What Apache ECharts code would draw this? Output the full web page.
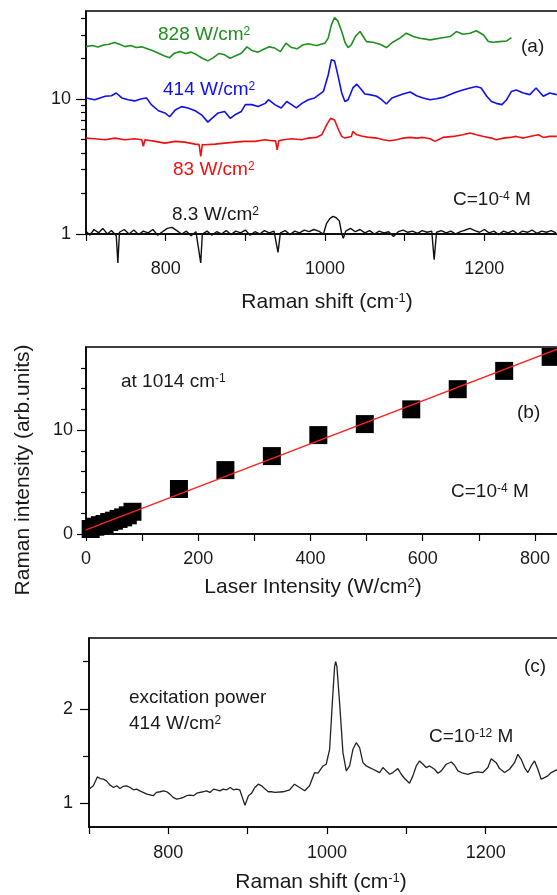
<!DOCTYPE html>
<html>
<head>
<meta charset="utf-8">
<script src="https://cdn.jsdelivr.net/npm/echarts@6/dist/echarts.min.js"></script>
<style>
html,body{margin:0;padding:0;background:#fff;}
#chart{width:557px;height:895px;}
</style>
</head>
<body>
<div id="chart"></div>
<script>
// (a) SERS spectra at four laser intensities, [Raman shift, intensity]
var spec828 = [[700,24.5],[708,25.0],[715,24.3],[722,25.2],[729,25.5],[736,26.3],[742,25.5],[749,24.5],[756,25.0],[763,24.1],[770,24.4],[777,23.6],[784,22.8],[791,21.9],[798,21.0],[805,20.3],[811,21.9],[818,22.5],[825,21.8],[832,22.3],[839,21.3],[846,20.1],[853,19.2],[860,20.3],[867,21.8],[874,21.3],[881,20.1],[888,21.0],[895,21.9],[902,24.4],[909,22.8],[916,22.3],[923,23.4],[930,24.4],[937,23.9],[944,22.5],[951,26.0],[958,24.1],[965,23.6],[972,25.2],[979,25.7],[986,25.2],[990,25.0],[995,25.5],[1000,26.0],[1004,28.3],[1008,35.5],[1012,40.2],[1016,38.0],[1021,31.7],[1025,26.4],[1029,24.1],[1033,25.2],[1038,29.1],[1044,31.7],[1048,29.1],[1052,26.7],[1060,26.4],[1069,25.5],[1077,24.1],[1085,26.4],[1094,28.3],[1102,30.8],[1111,29.1],[1119,28.3],[1132,27.5],[1144,28.3],[1157,29.1],[1165,31.7],[1173,30.3],[1182,30.8],[1190,32.1],[1199,29.9],[1205,26.7],[1211,26.4],[1219,26.7],[1228,27.0],[1234,28.6]];

var spec414 = [[700,10.2],[711,9.9],[724,10.5],[732,10.6],[738,11.1],[745,10.2],[753,9.9],[761,9.7],[770,10.05],[776,10.2],[782,9.1],[791,8.2],[799,7.9],[805,7.4],[812,8.3],[820,8.8],[828,8.6],[837,8.2],[845,7.65],[853,6.75],[858,7.2],[866,7.9],[874,8.1],[881,7.2],[887,7.65],[895,8.1],[900,9.1],[908,9.1],[916,8.8],[925,9.3],[929,9.9],[937,9.1],[945,8.6],[952,9.6],[958,9.1],[964,8.6],[971,9.3],[979,9.9],[987,10.2],[989,10.5],[998,11.4],[1004,15.1],[1008,19.6],[1012,19.2],[1017,14.3],[1021,11.1],[1025,9.6],[1029,9.9],[1035,12.1],[1040,12.9],[1044,12.1],[1050,10.9],[1056,10.8],[1065,10.5],[1071,9.9],[1077,9.2],[1084,10.2],[1090,10.5],[1098,10.9],[1107,11.3],[1115,10.6],[1123,10.2],[1132,9.9],[1140,10.05],[1148,10.3],[1157,10.8],[1165,11.3],[1173,11.7],[1182,12.1],[1190,12.4],[1196,12.1],[1203,10.5],[1209,9.6],[1215,9.3],[1222,9.1],[1228,9.9],[1234,11.4],[1240,11.7],[1249,11.1],[1257,10.8],[1265,12.1],[1274,10.5],[1282,11.1],[1291,10.8]];

var spec83 = [[700,5.14],[711,5.08],[724,5.0],[736,5.14],[749,5.0],[761,5.08],[770,5.0],[772,4.46],[774,5.0],[787,4.86],[799,4.72],[812,4.86],[824,4.8],[837,4.64],[842,4.6],[844,3.76],[846,4.6],[849,4.59],[862,4.64],[874,4.72],[887,4.8],[899,4.86],[912,4.86],[925,5.0],[933,4.91],[938,4.9],[940,4.21],[942,4.9],[948,5.0],[958,5.08],[971,5.0],[979,5.14],[989,5.2],[996,5.44],[1002,6.45],[1007,7.2],[1012,7.0],[1017,5.93],[1021,5.29],[1025,5.14],[1033,5.29],[1035,5.76],[1040,5.44],[1048,5.29],[1056,5.2],[1065,5.14],[1073,5.0],[1081,4.91],[1090,5.0],[1098,5.14],[1107,5.2],[1115,5.14],[1123,5.2],[1132,5.08],[1138,4.86],[1148,5.2],[1161,5.29],[1173,5.44],[1182,5.6],[1190,5.44],[1199,5.29],[1209,5.14],[1215,5.0],[1224,5.14],[1232,5.2],[1240,5.29],[1249,5.14],[1257,5.29],[1268,5.44],[1274,5.2],[1282,5.29],[1291,5.29]];

var spec8 = [[700,1.05],[705,0.98],[710,1.08],[716,1.02],[721,1.1],[727,1.0],[732,1.06],[738,0.97],[740,0.61],[742,1.03],[748,1.08],[754,1.0],[760,1.07],[766,0.99],[772,1.05],[778,1.02],[784,1.08],[790,0.98],[796,1.04],[802,1.1],[808,1.12],[814,1.06],[820,1.0],[826,1.05],[832,0.97],[838,1.04],[844,0.61],[846,1.0],[852,1.05],[858,0.98],[864,1.04],[870,1.0],[876,1.06],[882,0.99],[888,1.05],[894,1.02],[900,1.07],[906,0.98],[912,1.04],[918,1.0],[924,1.06],[930,1.02],[936,1.05],[941,0.73],[944,1.02],[950,1.06],[956,0.99],[962,1.05],[968,1.02],[974,1.07],[980,1.04],[986,1.08],[992,1.05],[998,1.0],[1002,1.2],[1006,1.3],[1010,1.35],[1014,1.32],[1018,1.25],[1021,1.0],[1023,0.93],[1026,1.05],[1032,1.1],[1038,1.04],[1044,1.08],[1050,1.02],[1056,1.06],[1062,1.0],[1068,1.05],[1074,1.02],[1080,1.04],[1086,0.96],[1092,1.04],[1098,1.07],[1104,1.03],[1110,1.05],[1116,1.01],[1122,1.06],[1128,1.03],[1134,1.05],[1137,0.645],[1140,1.03],[1146,1.06],[1152,1.02],[1158,1.05],[1164,1.0],[1170,1.04],[1176,1.07],[1182,1.1],[1188,1.06],[1194,1.03],[1200,1.08],[1206,1.02],[1212,1.05],[1218,0.99],[1224,1.05],[1230,1.02],[1236,1.06],[1242,1.0],[1248,1.05],[1254,1.03],[1260,1.07],[1266,1.01],[1272,1.05],[1278,1.03],[1284,1.06],[1290,1.02]];

// (b) peak intensity at 1014 cm-1 vs laser intensity
var laserPower = [8.3,16.6,24.8,33.1,41.4,49.7,58.0,66.2,74.5,82.8,165.6,248.4,331.2,414,496.8,579.6,662.4,745.2,828];
var peak1014 = [0.48,0.70,0.85,0.96,1.15,1.28,1.45,1.60,1.80,2.14,4.33,6.15,7.5,9.52,10.58,12.0,13.94,15.7,17.05];
var fitX = [0, 850];
var fitY = [0.4, 18.0];

// (c) C=10^-12 M spectrum
var specC = [[700,1.15],[705.5,1.186],[710.5,1.28],[714,1.263],[718,1.256],[722,1.238],[726.5,1.193],[731,1.168],[735,1.186],[739,1.158],[743,1.179],[747.5,1.186],[752,1.168],[756,1.144],[760,1.151],[764,1.133],[773,1.098],[781,1.081],[785,1.116],[789.5,1.123],[794,1.133],[798,1.123],[802,1.098],[806,1.063],[810.5,1.045],[815,1.052],[819,1.063],[823,1.081],[827,1.087],[831.5,1.081],[836,1.108],[840,1.116],[844,1.123],[848,1.133],[852.5,1.116],[857,1.151],[861,1.144],[865,1.133],[869,1.151],[873.5,1.144],[878,1.168],[882,1.144],[886,1.151],[890,1.144],[894,1.045],[896.6,0.98],[901,1.081],[905,1.108],[909,1.168],[913.4,1.203],[917.6,1.186],[922,1.151],[926,1.123],[930,1.123],[934.4,1.116],[944.5,1.123],[953,1.144],[959,1.203],[965.5,1.168],[972,1.133],[978,1.186],[984.4,1.326],[988.6,1.319],[995,1.396],[999,1.414],[1003.3,1.572],[1006.7,2.062],[1009.6,2.448],[1010.9,2.501],[1012.5,2.448],[1015.9,2.062],[1020.1,1.537],[1024.3,1.344],[1028.5,1.396],[1032.7,1.572],[1036.9,1.642],[1041.1,1.589],[1045.3,1.431],[1049.5,1.396],[1053.7,1.379],[1058,1.361],[1062,1.344],[1066.3,1.326],[1070.5,1.379],[1074.7,1.344],[1079,1.308],[1083,1.326],[1089.4,1.368],[1093.6,1.308],[1097.8,1.263],[1104,1.214],[1108.3,1.291],[1112.5,1.396],[1116.7,1.449],[1121,1.414],[1125,1.379],[1129.3,1.396],[1135.6,1.361],[1139.8,1.319],[1144,1.344],[1150.3,1.414],[1156.6,1.438],[1160.8,1.403],[1165,1.344],[1171.3,1.319],[1177.6,1.308],[1184,1.326],[1190,1.333],[1196.5,1.326],[1202.8,1.379],[1207,1.473],[1213.3,1.431],[1217.5,1.368],[1223.8,1.326],[1230,1.361],[1236.4,1.431],[1240.6,1.519],[1244.8,1.466],[1249,1.379],[1253.2,1.326],[1257.4,1.396],[1261.6,1.449],[1265.8,1.361],[1270,1.256],[1274.2,1.273],[1278.4,1.291],[1282.6,1.326],[1286.8,1.344],[1291.4,1.361]];

var FONT = '"Liberation Sans", Arial, sans-serif';
var INK = '#1a1a1a';

var chart = echarts.init(document.getElementById('chart'));

function richSup(size, color) {
    return {
        n: {fontSize: size, fontFamily: FONT, fill: color},
        s: {fontSize: Math.round(size * 0.63), fontFamily: FONT, fill: color, verticalAlign: 'top'}
    };
}
function label(x, y, text, color, size, align) {
    return {
        type: 'text', x: x, y: y, z: 100,
        style: {
            text: text, rich: richSup(size || 19, color || INK),
            align: align || 'left', verticalAlign: 'middle'
        }
    };
}

function xAxisOf(grid, min, max, margin, labelled) {
    return {
        gridIndex: grid, type: 'value', min: min, max: max, interval: 100,
        axisLine: {show: true, onZero: false, lineStyle: {color: '#000', width: 1.5}},
        axisTick: {show: true, length: 7, lineStyle: {color: '#000', width: 1.2}},
        axisLabel: {
            margin: margin, color: INK, fontSize: 18, fontFamily: FONT,
            formatter: function (v) { return labelled.indexOf(v) >= 0 ? String(v) : ''; }
        },
        splitLine: {show: false}
    };
}
function yAxisOf(grid, type, min, max, ticks, len, labels, margin) {
    var ax = {
        gridIndex: grid, type: type, min: min, max: max, position: 'left',
        axisLine: {show: !!labels, onZero: false, lineStyle: {color: '#000', width: 1.5}},
        axisTick: {show: true, length: len, customValues: ticks, lineStyle: {color: '#000', width: 1.2}},
        axisLabel: labels ? {customValues: labels, margin: margin, color: INK, fontSize: 18, fontFamily: FONT} : {show: false},
        splitLine: {show: false}
    };
    if (type === 'log') ax.logBase = 10;
    return ax;
}

// right edge of every frame lies just past the picture, as in the original figure
function gridOf(left, top, width, height) {
    return {left: left, top: top, width: width, height: height, outerBoundsMode: 'none',
        show: true, borderColor: '#000', borderWidth: 1.5};
}

var option = {
    animation: false,
    backgroundColor: '#fff',
    grid: [
        gridOf(86, 11, 478, 223),
        gridOf(86, 347, 477, 187),
        gridOf(89, 638, 476, 189)
    ],
    xAxis: [
        xAxisOf(0, 700, 1300, 26, [800, 1000, 1200]),
        xAxisOf(1, 0, 850, 16, [0, 200, 400, 600, 800]),
        xAxisOf(2, 700, 1300, 17, [800, 1000, 1200])
    ],
    yAxis: [
        yAxisOf(0, 'log', 1, 45, [1, 10], 10, [1, 10], 15),
        yAxisOf(0, 'log', 1, 45, [2, 3, 4, 5, 6, 7, 8, 9, 20, 30, 40], 5, null),
        yAxisOf(1, 'value', 0, 18, [0, 10], 9, [0, 10], 13),
        yAxisOf(1, 'value', 0, 18, [2, 4, 6, 8, 12, 14, 16], 5, null),
        yAxisOf(2, 'value', 0.75, 2.75, [1, 2], 9, [1, 2], 16),
        yAxisOf(2, 'value', 0.75, 2.75, [1.5, 2.5], 6, null)
    ],
    series: [
        {type: 'line', xAxisIndex: 0, yAxisIndex: 0, data: spec828, showSymbol: false, lineStyle: {color: '#1f8f1f', width: 1.6}},
        {type: 'line', xAxisIndex: 0, yAxisIndex: 0, data: spec414, showSymbol: false, lineStyle: {color: '#1010f0', width: 1.6}},
        {type: 'line', xAxisIndex: 0, yAxisIndex: 0, data: spec83, showSymbol: false, lineStyle: {color: '#f01010', width: 1.6}},
        {type: 'line', xAxisIndex: 0, yAxisIndex: 0, data: spec8, showSymbol: false, clip: false, lineStyle: {color: '#111', width: 1.4}},
        {
            type: 'scatter', xAxisIndex: 1, yAxisIndex: 2, symbol: 'rect', symbolSize: 18,
            itemStyle: {color: '#000', opacity: 1},
            data: laserPower.map(function (p, i) { return [p, peak1014[i]]; })
        },
        {
            type: 'line', xAxisIndex: 1, yAxisIndex: 2, z: 5, showSymbol: false,
            lineStyle: {color: '#ff2020', width: 1.3},
            data: fitX.map(function (p, i) { return [p, fitY[i]]; })
        },
        {type: 'line', xAxisIndex: 2, yAxisIndex: 4, data: specC, showSymbol: false, lineStyle: {color: '#222', width: 1.3}}
    ],
    graphic: [
        label(158, 35, '{n|828 W/cm}{s|2}', '#1f8f1f'),
        label(163, 90, '{n|414 W/cm}{s|2}', '#1010f0'),
        label(173, 170, '{n|83 W/cm}{s|2}', '#f01010'),
        label(172, 215, '{n|8.3 W/cm}{s|2}', INK),
        label(521, 47, '{n|(a)}'),
        label(453, 200, '{n|C=10}{s|-4}{n| M}'),
        label(327, 302, '{n|Raman shift (cm}{s|-1}{n|)}', INK, 21, 'center'),

        label(121, 382, '{n|at 1014 cm}{s|-1}'),
        label(517, 413, '{n|(b)}'),
        label(451, 492, '{n|C=10}{s|-4}{n| M}'),
        label(313, 587, '{n|Laser Intensity (W/cm}{s|2}{n|)}', INK, 21, 'center'),
        {
            type: 'text', x: 23, y: 470, rotation: Math.PI / 2, z: 100,
            style: {text: 'Raman intensity (arb.units)', fontSize: 21, fontFamily: FONT, fill: INK, align: 'center', verticalAlign: 'middle'}
        },

        label(129, 698, '{n|excitation power}'),
        label(129, 724, '{n|414 W/cm}{s|2}'),
        label(524, 667, '{n|(c)}'),
        label(429, 737, '{n|C=10}{s|-12}{n| M}'),
        label(321, 882, '{n|Raman shift (cm}{s|-1}{n|)}', INK, 21, 'center')
    ]
};

chart.setOption(option);
</script>
</body>
</html>
